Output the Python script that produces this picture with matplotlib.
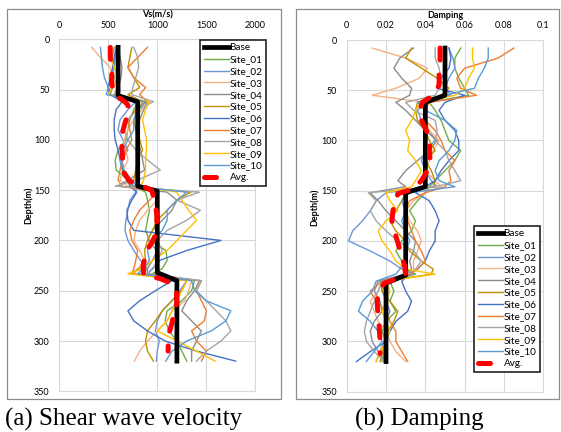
import matplotlib
matplotlib.use("Agg")
import matplotlib.pyplot as plt
from matplotlib.patches import Rectangle

# depths (m) at which the site profiles are read
depth = [8, 18, 28, 38, 48, 55, 62, 70, 80, 90, 100, 110, 120, 130, 140, 146, 152,
         160, 170, 180, 190, 200, 210, 220, 228, 233, 240, 250, 260, 270, 280, 290,
         300, 310, 320]

site_names = ["Site_01", "Site_02", "Site_03", "Site_04", "Site_05",
              "Site_06", "Site_07", "Site_08", "Site_09", "Site_10"]
site_colors = ["#70AD47", "#6F95D6", "#F4B183", "#8C8C8C", "#BF9000",
               "#4472C4", "#ED7D31", "#A5A5A5", "#FFC000", "#5B9BD5"]

# ---- (a) shear wave velocity, m/s
base_vs_depth = [8, 56, 62, 146, 151, 232, 240, 320]
base_vs = [600, 600, 800, 800, 1000, 1000, 1200, 1200]
avg_vs_depth = [8, 18, 32, 44, 56, 60, 64, 70, 81, 94, 101, 110, 120, 131, 141, 145,
                150, 160, 175, 190, 196, 203, 210, 224, 234, 238, 242, 250, 262, 272,
                282, 295, 310]
avg_vs = [520, 520, 535, 535, 565, 640, 690, 720, 677, 640, 637, 640, 647, 650, 715,
          830, 940, 975, 995, 994, 975, 940, 890, 857, 860, 1030, 1130, 1195, 1200,
          1170, 1150, 1112, 1110]

vs_01 = [560, 540, 545, 560, 540, 520, 800, 760, 720, 700, 680, 600, 570, 580, 700, 760, 880, 900,
         920, 900, 880, 920, 1090, 1100, 1050, 950, 1380, 1350, 1250, 1100, 1080, 1120, 1200, 1250, 1300]
vs_02 = [580, 570, 560, 530, 500, 510, 780, 700, 620, 600, 650, 700, 640, 660, 740, 790, 780, 720,
         700, 680, 670, 700, 760, 830, 900, 900, 1300, 1230, 1150, 1050, 1000, 980, 1020, 1000, 990]
vs_03 = [330, 420, 520, 540, 520, 510, 860, 840, 760, 700, 660, 680, 700, 650, 620, 700, 980, 1000,
         900, 820, 780, 760, 820, 870, 800, 760, 1350, 1320, 1280, 1150, 1100, 1000, 900, 820, 766]
vs_04 = [600, 620, 640, 630, 600, 560, 900, 860, 820, 790, 800, 830, 850, 870, 700, 600, 1100, 1200,
         1150, 1050, 950, 900, 1000, 950, 900, 860, 1430, 1380, 1300, 1250, 1350, 1450, 1400, 1350, 1350]
vs_05 = [740, 720, 700, 760, 820, 700, 850, 800, 760, 780, 820, 850, 800, 780, 760, 720, 1340, 1200,
         1100, 1000, 950, 900, 870, 880, 820, 720, 1300, 1250, 1150, 1050, 980, 900, 880, 900, 960]
vs_06 = [580, 560, 545, 520, 500, 520, 640, 580, 560, 560, 570, 600, 620, 650, 700, 720, 790, 740,
         690, 700, 760, 1650, 1300, 1020, 950, 900, 1150, 980, 820, 700, 760, 900, 1080, 1400, 1800]
vs_07 = [900, 800, 700, 760, 880, 820, 900, 780, 700, 720, 740, 680, 640, 620, 600, 640, 1000, 920,
         820, 760, 720, 740, 800, 780, 760, 740, 1450, 1400, 1450, 1500, 1480, 1350, 1400, 1500, 1450]
vs_08 = [760, 800, 810, 780, 750, 740, 960, 800, 700, 660, 700, 780, 900, 1030, 800, 570, 1430, 1200,
         1440, 1300, 1100, 1000, 1050, 1000, 960, 900, 1450, 1400, 1500, 1600, 1700, 1750, 1650, 1500, 1400]
vs_09 = [500, 520, 560, 600, 540, 500, 920, 880, 850, 870, 890, 890, 880, 880, 860, 830, 1200, 1250,
         1320, 1400, 1300, 1200, 1100, 950, 860, 700, 1300, 1250, 1200, 1150, 1100, 1000, 1200, 1400, 1590]
vs_10 = [420, 430, 440, 460, 500, 480, 880, 800, 760, 760, 700, 650, 620, 640, 700, 760, 1300, 1200,
         1100, 1100, 1050, 950, 900, 920, 860, 800, 1350, 1380, 1500, 1750, 1700, 1550, 1300, 1150, 1086]
vs_sites = [vs_01, vs_02, vs_03, vs_04, vs_05, vs_06, vs_07, vs_08, vs_09, vs_10]

# ---- (b) damping ratio
base_d_depth = [8, 55, 62, 146, 152, 234, 242, 320]
base_d = [0.05, 0.05, 0.04, 0.04, 0.03, 0.03, 0.02, 0.02]
avg_d_depth = [8, 20, 32, 45, 55, 62, 70, 80, 92, 100, 110, 120, 130, 140, 148, 153, 160, 170,
               180, 195, 205, 215, 225, 234, 238, 242, 252, 262, 275, 285, 300, 312]
avg_d = [0.0475, 0.0475, 0.047, 0.047, 0.044, 0.0385, 0.037, 0.038, 0.041, 0.0425, 0.042, 0.0425,
         0.041, 0.038, 0.034, 0.026, 0.025, 0.0235, 0.023, 0.025, 0.0265, 0.028, 0.0295, 0.030,
         0.025, 0.019, 0.016, 0.0155, 0.016, 0.0165, 0.017, 0.017]

d_01 = [0.058, 0.055, 0.055, 0.057, 0.060, 0.062, 0.042, 0.045, 0.048, 0.050, 0.052, 0.058, 0.055,
        0.050, 0.045, 0.042, 0.040, 0.036, 0.032, 0.035, 0.033, 0.028, 0.025, 0.028, 0.030, 0.035,
        0.022, 0.024, 0.022, 0.025, 0.020, 0.018, 0.020, 0.019, 0.018]
d_02 = [0.052, 0.054, 0.055, 0.052, 0.050, 0.053, 0.040, 0.036, 0.038, 0.042, 0.045, 0.040, 0.038,
        0.040, 0.043, 0.046, 0.020, 0.015, 0.012, 0.008, 0.003, 0.001, 0.012, 0.022, 0.028, 0.034,
        0.017, 0.018, 0.020, 0.022, 0.020, 0.020, 0.019, 0.017, 0.015]
d_03 = [0.013, 0.030, 0.041, 0.037, 0.025, 0.013, 0.040, 0.041, 0.040, 0.042, 0.047, 0.044, 0.042,
        0.040, 0.045, 0.048, 0.040, 0.034, 0.030, 0.032, 0.036, 0.038, 0.036, 0.034, 0.034, 0.033,
        0.018, 0.016, 0.012, 0.014, 0.016, 0.020, 0.022, 0.025, 0.030]
d_04 = [0.034, 0.027, 0.024, 0.028, 0.033, 0.032, 0.025, 0.030, 0.035, 0.040, 0.046, 0.042, 0.036,
        0.030, 0.026, 0.030, 0.012, 0.016, 0.020, 0.025, 0.030, 0.035, 0.034, 0.032, 0.033, 0.030,
        0.016, 0.014, 0.017, 0.018, 0.014, 0.012, 0.013, 0.016, 0.020]
d_05 = [0.033, 0.030, 0.038, 0.046, 0.052, 0.048, 0.036, 0.035, 0.036, 0.040, 0.042, 0.045, 0.040,
        0.043, 0.045, 0.044, 0.030, 0.028, 0.025, 0.022, 0.025, 0.030, 0.032, 0.038, 0.044, 0.043,
        0.020, 0.018, 0.022, 0.026, 0.024, 0.021, 0.020, 0.018, 0.017]
d_06 = [0.052, 0.053, 0.052, 0.048, 0.046, 0.060, 0.050, 0.047, 0.050, 0.055, 0.057, 0.057, 0.052,
        0.048, 0.045, 0.040, 0.035, 0.042, 0.045, 0.047, 0.045, 0.045, 0.042, 0.040, 0.036, 0.032,
        0.028, 0.030, 0.033, 0.031, 0.025, 0.022, 0.020, 0.012, 0.005]
d_07 = [0.085, 0.077, 0.060, 0.056, 0.058, 0.066, 0.042, 0.040, 0.040, 0.045, 0.048, 0.050, 0.055,
        0.052, 0.053, 0.050, 0.040, 0.032, 0.030, 0.031, 0.033, 0.035, 0.038, 0.040, 0.036, 0.032,
        0.018, 0.012, 0.015, 0.020, 0.022, 0.025, 0.025, 0.028, 0.031]
d_08 = [0.045, 0.045, 0.047, 0.048, 0.047, 0.045, 0.030, 0.034, 0.045, 0.046, 0.045, 0.050, 0.052,
        0.055, 0.058, 0.045, 0.011, 0.015, 0.012, 0.015, 0.020, 0.026, 0.034, 0.038, 0.035, 0.030,
        0.018, 0.016, 0.014, 0.012, 0.010, 0.009, 0.010, 0.014, 0.019]
d_09 = [0.064, 0.064, 0.065, 0.062, 0.060, 0.055, 0.038, 0.035, 0.033, 0.030, 0.032, 0.031, 0.035,
        0.038, 0.035, 0.033, 0.020, 0.022, 0.026, 0.020, 0.016, 0.018, 0.022, 0.025, 0.030, 0.045,
        0.020, 0.022, 0.020, 0.018, 0.020, 0.022, 0.020, 0.017, 0.015]
d_10 = [0.072, 0.072, 0.070, 0.067, 0.065, 0.050, 0.036, 0.040, 0.050, 0.056, 0.055, 0.052, 0.047,
        0.045, 0.047, 0.055, 0.032, 0.028, 0.030, 0.028, 0.030, 0.032, 0.030, 0.030, 0.027, 0.025,
        0.015, 0.013, 0.008, 0.006, 0.012, 0.016, 0.018, 0.014, 0.010]
d_sites = [d_01, d_02, d_03, d_04, d_05, d_06, d_07, d_08, d_09, d_10]

plt.rcParams["font.family"] = ["Lato", "DejaVu Sans"]

W, H = 561, 432
fig = plt.figure(figsize=(W / 100, H / 100), dpi=100)


def px_axes(x0, y0, x1, y1):
    return fig.add_axes([x0 / W, 1 - y1 / H, (x1 - x0) / W, (y1 - y0) / H])


def draw_panel(ax, sites, base_depth, base, avg_depth, avg, xmax, xticks, xfmt):
    ax.plot(base, base_depth, color="black", lw=3.4, label="Base", zorder=3)
    for vals, name, col in zip(sites, site_names, site_colors):
        ax.plot(vals, depth, color=col, lw=1.0, label=name, zorder=2)
    ax.plot(avg, avg_depth, color="#FF0000", lw=3.6, ls=(0, (2.4, 3.0)),
            dash_capstyle="round", label="Avg.", zorder=4)
    ax.set_xlim(0, xmax)
    ax.set_ylim(350, 0)
    ax.set_xticks(xticks)
    ax.set_xticklabels([xfmt(v) for v in xticks])
    ax.set_yticks(range(0, 351, 50))
    ax.xaxis.tick_top()
    ax.tick_params(length=0, labelsize=6.5, pad=7)
    ax.grid(True, color="#D9D9D9", lw=0.8)
    ax.set_axisbelow(True)
    for s in ax.spines.values():
        s.set_color("#D9D9D9")
        s.set_linewidth(0.8)


ax1 = px_axes(59.3, 39.3, 255.3, 391.3)
draw_panel(ax1, vs_sites, base_vs_depth, base_vs, avg_vs_depth, avg_vs, 2000,
           [0, 500, 1000, 1500, 2000], lambda v: f"{v}")
ax2 = px_axes(346.7, 40, 543.3, 391.7)
draw_panel(ax2, d_sites, base_d_depth, base_d, avg_d_depth, avg_d, 0.1,
           [0, 0.02, 0.04, 0.06, 0.08, 0.1], lambda v: f"{v:g}")

for ax, (lx, ly) in [(ax1, (200, 40)), (ax2, (474, 226))]:
    leg = ax.legend(loc="upper left", bbox_to_anchor=(lx / W, 1 - ly / H),
                    bbox_transform=fig.transFigure, fontsize=7.2, frameon=True,
                    fancybox=False, framealpha=1, edgecolor="#222222",
                    handlelength=2.5, handletextpad=0.1, labelspacing=0.28,
                    borderpad=0.35, borderaxespad=0)
    leg.get_frame().set_linewidth(1.2)

# axis titles
fig.text(157.3 / W, 1 - 15 / H, "Vs(m/s)", ha="center", va="center",
         fontsize=6.5, fontweight="bold")
fig.text(445 / W, 1 - 16 / H, "Damping", ha="center", va="center",
         fontsize=6.5, fontweight="bold")
fig.text(28 / W, 1 - 205 / H, "Depth(m)", ha="center", va="center",
         rotation=90, fontsize=6.5, fontweight="bold")
fig.text(314 / W, 1 - 207 / H, "Depth(m)", ha="center", va="center",
         rotation=90, fontsize=6.5, fontweight="bold")

# panel frames
for x0, x1 in [(7, 281), (296, 559)]:
    fig.add_artist(Rectangle((x0 / W, 1 - 399 / H), (x1 - x0) / W, 390 / H,
                             transform=fig.transFigure, fill=False,
                             edgecolor="#8C8C8C", lw=0.9))

# captions
fig.text(5 / W, 1 - 419 / H, "(a) Shear wave velocity", ha="left", va="center",
         fontsize=18, family="Liberation Serif")
fig.text(355 / W, 1 - 419 / H, "(b) Damping", ha="left", va="center",
         fontsize=18, family="Liberation Serif")

fig.savefig("out.png", dpi=100)
